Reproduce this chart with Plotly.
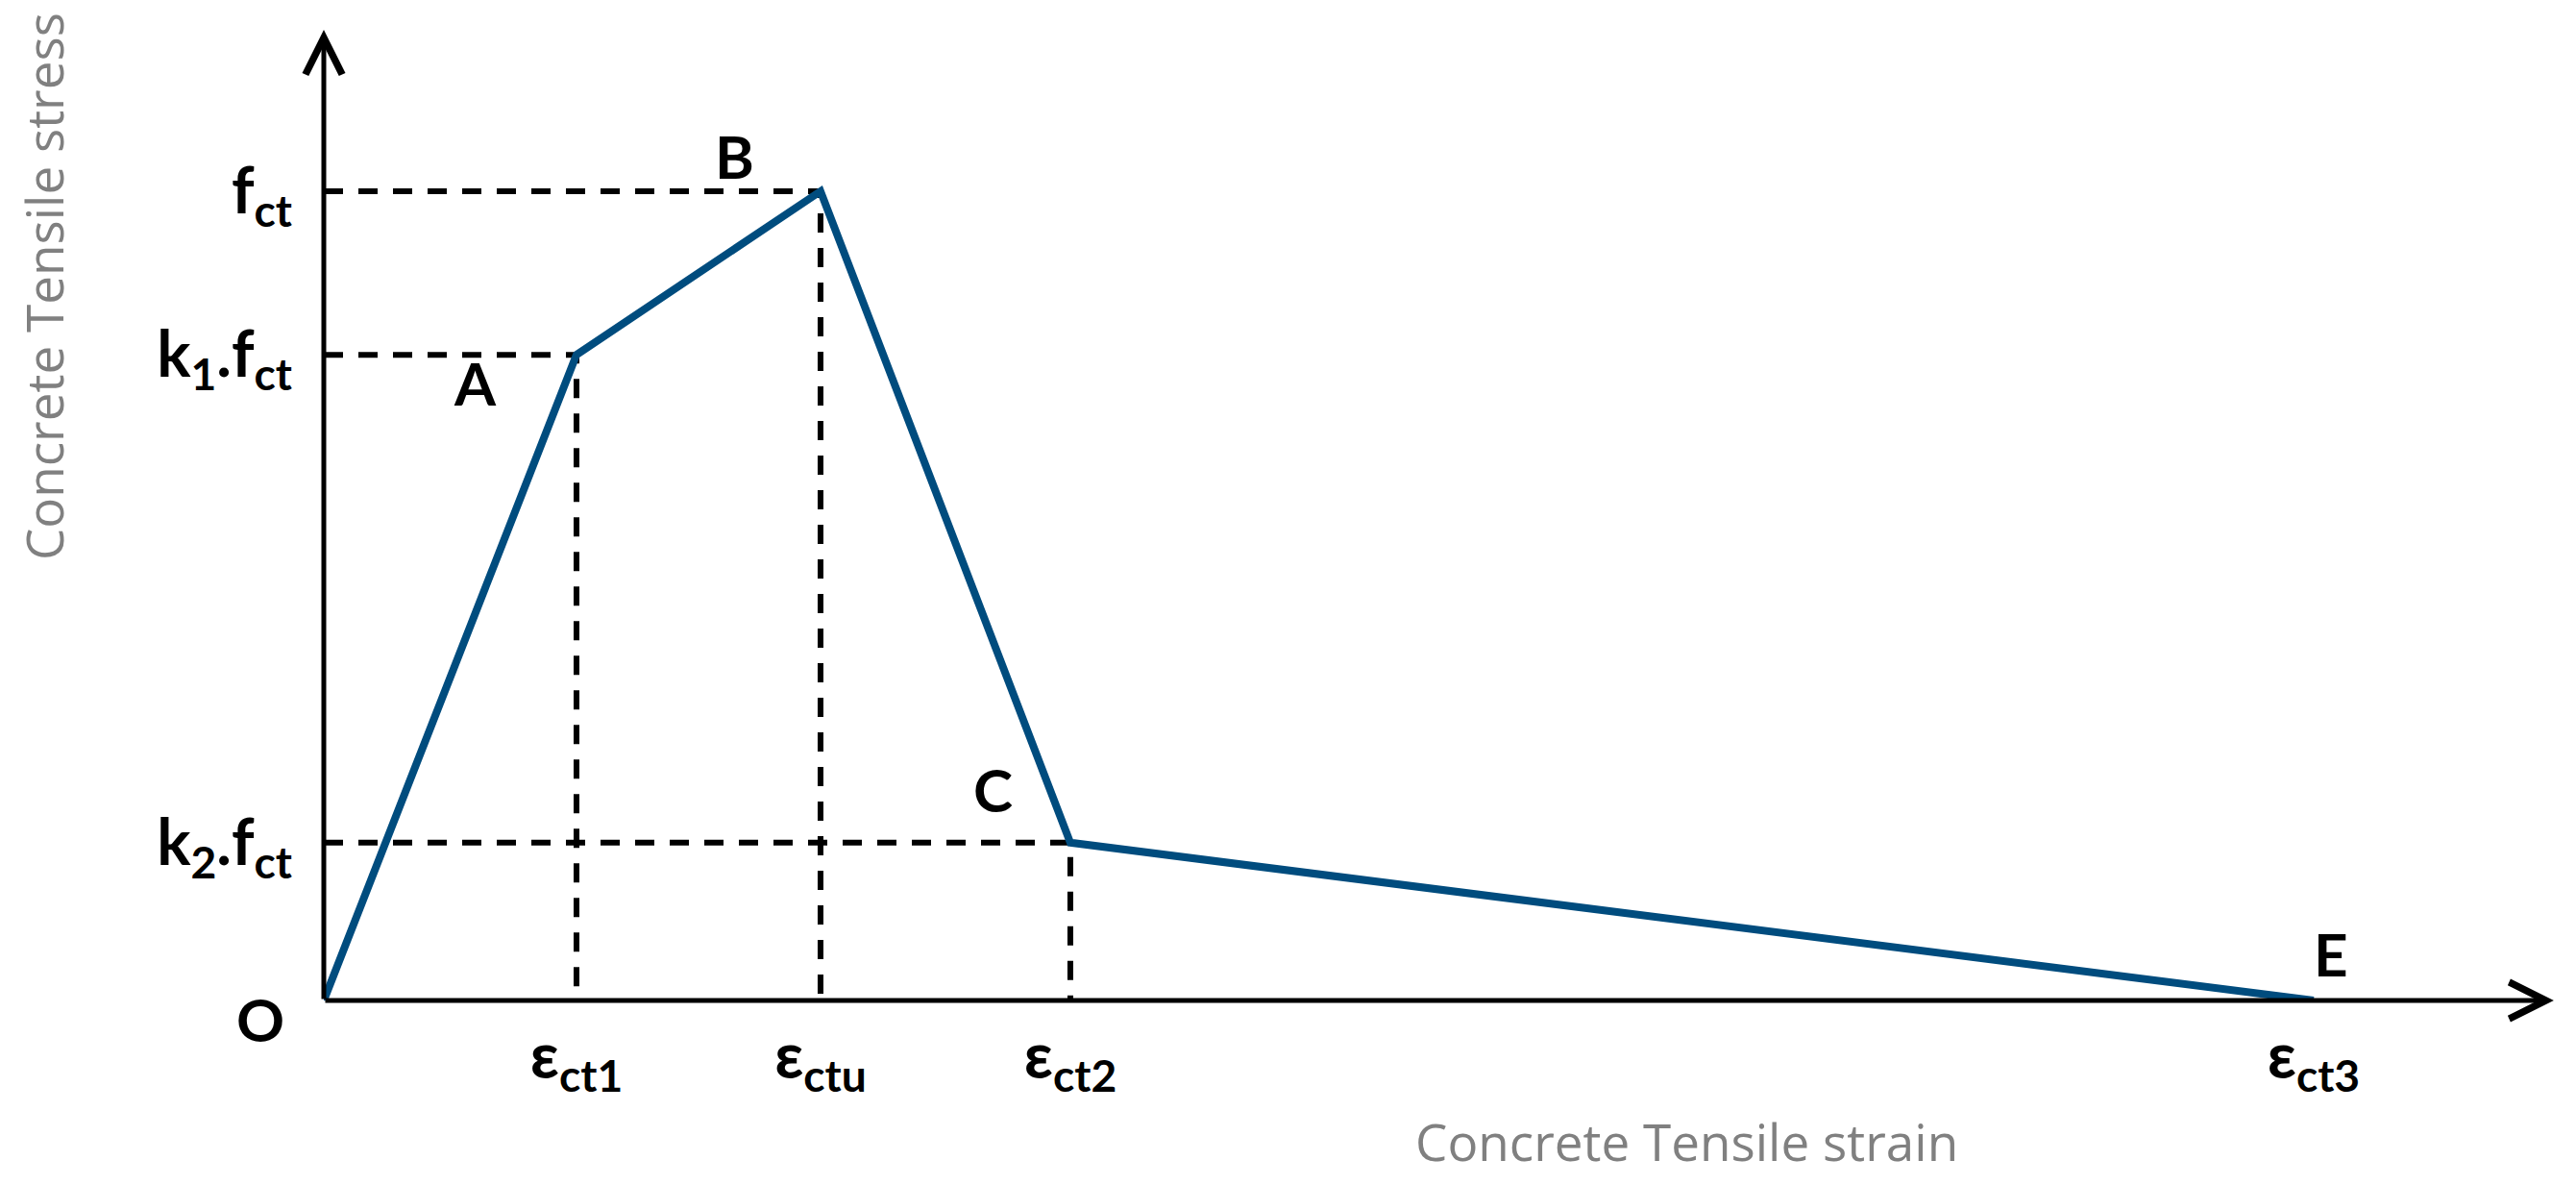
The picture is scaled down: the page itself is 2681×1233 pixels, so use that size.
import plotly.graph_objects as go

# key points of the tension softening curve O-A-B-C-E
point_names = ['O', 'A', 'B', 'C', 'E']
strain = [0, 2.63, 5.17, 7.77, 20.71]
stress = [0, 0.798, 1.0, 0.195, 0]

strain_labels = ['ε<sub>ct1</sub>', 'ε<sub>ctu</sub>', 'ε<sub>ct2</sub>', 'ε<sub>ct3</sub>']
stress_labels = ['k<sub>1</sub>.f<sub>ct</sub>', 'f<sub>ct</sub>', 'k<sub>2</sub>.f<sub>ct</sub>']

x_end = 23.21
y_end = 1.1995

curve_color = '#004C7E'
tick_font = dict(family='Lato', size=66, color='black')
point_font = dict(family='Lato', size=62, color='black')
title_font = dict(family='Open Sans', size=53, color='#808080')

fig = go.Figure()

# dashed guide lines from A, B, C to both axes
for i in range(1, 4):
    fig.add_trace(go.Scatter(x=[0, strain[i], strain[i]], y=[stress[i], stress[i], 0],
                             mode='lines', line=dict(color='black', width=6, dash='20px,16px'),
                             hoverinfo='skip', cliponaxis=False))

fig.add_trace(go.Scatter(x=strain, y=stress, mode='lines',
                         line=dict(color=curve_color, width=8),
                         cliponaxis=False))

# axes drawn as arrows
fig.add_annotation(x=x_end, y=0, ax=0, ay=0, xref='x', yref='y', axref='x', ayref='y',
                   text='', showarrow=True, arrowhead=5, arrowwidth=5, arrowsize=1.5,
                   arrowcolor='black', standoff=0)
fig.add_annotation(x=0, y=y_end, ax=0, ay=0, xref='x', yref='y', axref='x', ayref='y',
                   text='', showarrow=True, arrowhead=5, arrowwidth=5, arrowsize=1.5,
                   arrowcolor='black', standoff=0)

# point labels
offsets = {'O': (-66, -19), 'A': (-105, -29), 'B': (-89, 37), 'C': (-80, 56), 'E': (18, 49)}
for name, xv, yv in zip(point_names, strain, stress):
    dx, dy = offsets[name]
    fig.add_annotation(x=xv, y=yv, text='<b>%s</b>' % name, showarrow=False,
                       xshift=dx, yshift=dy, font=point_font)

# axis titles
fig.add_annotation(xref='paper', yref='paper', x=0.611, y=-0.1455, text='Concrete Tensile strain',
                   xanchor='center', yanchor='middle', showarrow=False, font=title_font)
fig.add_annotation(xref='paper', yref='paper', x=-0.1258, y=0.7356, text='Concrete Tensile stress',
                   xanchor='center', yanchor='middle', textangle=-90, showarrow=False, font=title_font)

fig.update_layout(
    width=2681, height=1233, autosize=False,
    margin=dict(l=329, r=31, t=23, b=200),
    plot_bgcolor='white', paper_bgcolor='white',
    showlegend=False,
    xaxis=dict(range=[0, x_end + 0.001], showgrid=False, zeroline=False, showline=False,
               tickvals=strain[1:], ticktext=['<b>%s</b>' % t for t in strain_labels],
               tickfont=tick_font, ticks='', ticklabelstandoff=14),
    yaxis=dict(range=[0, y_end + 0.0001], showgrid=False, zeroline=False, showline=False,
               tickvals=stress[1:4], ticktext=['<b>%s</b>' % t for t in stress_labels],
               tickfont=tick_font, ticks='', ticklabelstandoff=32),
)

fig.write_html('out.html')
